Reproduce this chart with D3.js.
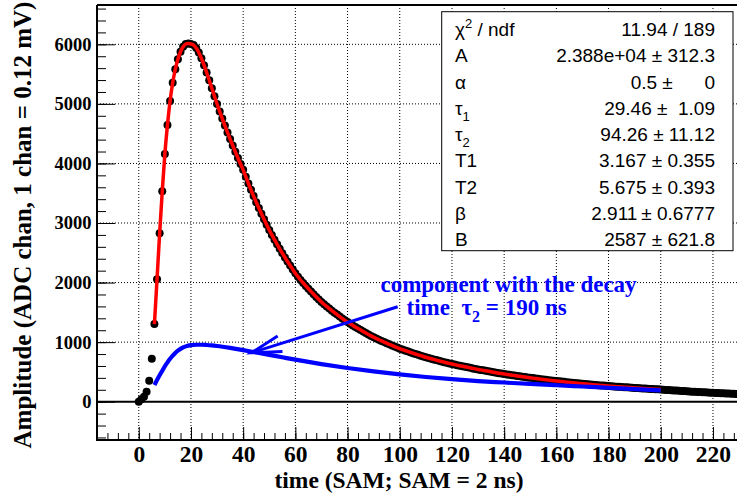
<!DOCTYPE html>
<html><head><meta charset="utf-8">
<script src="https://cdn.jsdelivr.net/npm/d3@7"></script>
<style>
body{margin:0;background:#fff}
svg{display:block}
.serif{font-family:"Liberation Serif","Times New Roman",serif;font-weight:bold}
.sans{font-family:"Liberation Sans",Arial,Helvetica,sans-serif}
</style></head><body>
<svg id="c" width="737" height="493"></svg>
<script>
// ---------------- data ----------------
// amplitude of each sample, sample index = time in SAM (0,1,2,...)
const amplitude = [
0,40,85,165,352,722,1304,2055,2827,3532,
4158,4645,5048,5355,5580,5748,5875,5960,6005,6015,
6005,5987,5940,5863,5764,5650,5527,5396,5263,5128,
4997,4873,4753,4636,4521,4410,4301,4195,4091,3990,
3892,3777,3665,3557,3452,3350,3251,3155,3062,2971,
2883,2800,2720,2642,2567,2494,2423,2353,2286,2221,
2157,2099,2043,1993,1944,1896,1849,1803,1759,1715,
1673,1636,1599,1564,1529,1495,1462,1429,1397,1366,
1336,1308,1281,1254,1228,1202,1177,1153,1129,1105,
1082,1061,1040,1020,1001,982,963,945,926,909,
891,875,860,845,830,815,801,787,773,759,
746,734,722,710,698,687,675,664,654,643,
633,623,614,604,595,586,577,568,559,551,
542,534,526,518,510,502,494,487,479,472,
465,458,452,445,439,432,426,420,414,408,
402,396,390,384,379,373,368,362,357,352,
347,342,338,333,328,324,319,315,310,306,
302,298,294,290,286,282,278,274,270,267,
263,260,256,253,250,247,244,241,238,235,
232,229,226,223,220,218,215,212,210,207,
204,201,198,195,192,189,186,183,180,178,
175,172,169,167,164,162,159,157,154,152,
150,147,145,143,141,139,136,134,132,130,
128,126
];
const fitRange = [6, 200];
// slow component (decay time tau2)
const componentTime = [6,7,8,9,10,11,12,13,14,15,16,17,18,19,20,22,24,26,28,30,35,40,45,50,55,60,70,80,90,100,110,120,130,140,150,160,170,180,190,200];
const componentAmp  = [280,365,445,520,595,660,720,772,818,856,887,911,929,941,949,956,956,952,945,935,903,866,826,786,746,706,632,566,508,458,415,378,346,322,298,276,255,234,212,190];
const xTickValues = [0,20,40,60,80,100,120,140,160,180,200,220];
const yTickValues = [0,1000,2000,3000,4000,5000,6000];
const statLabels = ["χ^{2} / ndf","A","α","τ_{1}","τ_{2}","T1","T2","β","B"];
const statValues = ["11.94 / 189","2.388e+04 ± 312.3","0.5 ±      0","29.46 ±  1.09","94.26 ± 11.12","3.167 ± 0.355","5.675 ± 0.393","2.911\u2009± 0.6777","2587 ± 621.8"];
const xTitle = "time (SAM; SAM = 2 ns)";
const yTitle = "Amplitude (ADC chan, 1 chan = 0.12 mV)";
const arrowFrom = [99.2, 1595];
const arrowTo = [43.2, 822];

// ---------------- layout ----------------
const W = 737, H = 493;
const L = 97, T = 5, B = 440;
const x = d3.scaleLinear().domain([-16, 232]).range([L, L + 248 * 2.61]);
const y = d3.scaleLinear().domain([-643, 6660]).range([B, T]);

const svg = d3.select('#c');
svg.append('rect').attr('width', W).attr('height', H).attr('fill', '#fff');
svg.append('defs').append('clipPath').attr('id', 'clip')
  .append('rect').attr('x', L).attr('y', T).attr('width', W - L + 20).attr('height', B - T);

// grid
const grid = svg.append('g').attr('stroke', '#000').attr('stroke-width', 1).attr('stroke-dasharray', '1,2');
grid.selectAll('line.gx').data(xTickValues).join('line').attr('class', 'gx')
  .attr('x1', d => x(d)).attr('x2', d => x(d)).attr('y1', T).attr('y2', B);
grid.selectAll('line.gy').data(yTickValues.filter(v => v !== 0)).join('line').attr('class', 'gy')
  .attr('y1', d => y(d)).attr('y2', d => y(d)).attr('x1', L).attr('x2', W);

// zero line
svg.append('line').attr('x1', L).attr('x2', W).attr('y1', y(0)).attr('y2', y(0))
  .attr('stroke', '#000').attr('stroke-width', 2);

const plot = svg.append('g').attr('clip-path', 'url(#clip)');
const pts = amplitude.map((v, i) => ({t: i, v}));
plot.selectAll('circle').data(pts).join('circle')
  .attr('cx', d => x(d.t)).attr('cy', d => y(d.v)).attr('r', 4).attr('fill', '#000');

const line = d3.line().x(d => x(d.t)).y(d => y(d.v)).curve(d3.curveMonotoneX);
plot.append('path').datum(pts.filter(d => d.t >= fitRange[0] && d.t <= fitRange[1]))
  .attr('d', line).attr('fill', 'none').attr('stroke', '#ff0000').attr('stroke-width', 3.5);
const comp = componentTime.map((t, i) => ({t, v: componentAmp[i]}));
plot.append('path').datum(comp).attr('d', line).attr('fill', 'none')
  .attr('stroke', '#0000ff').attr('stroke-width', 4.2);

// arrow
const ax1 = x(arrowFrom[0]), ay1 = y(arrowFrom[1]), ax2 = x(arrowTo[0]), ay2 = y(arrowTo[1]);
const ang = Math.atan2(ay1 - ay2, ax1 - ax2), len = 31, spread = 15 * Math.PI / 180;
const arrow = svg.append('g').attr('stroke', '#0000ff').attr('stroke-width', 3).attr('fill', 'none');
arrow.append('line').attr('x1', ax1).attr('y1', ay1).attr('x2', ax2).attr('y2', ay2);
arrow.append('path').attr('d',
  `M${ax2 + len * Math.cos(ang - spread)},${ay2 + len * Math.sin(ang - spread)}L${ax2},${ay2}L${ax2 + len * Math.cos(ang + spread)},${ay2 + len * Math.sin(ang + spread)}`);

// annotation
const ann = svg.append('g').attr('class', 'serif').attr('fill', '#0000ff').style('font-size', '23px');
ann.append('text').attr('x', x(92.6)).attr('y', y(1837)).text('component with the decay');
const t2 = ann.append('text').attr('x', x(102.6)).attr('y', y(1455)).style('white-space', 'pre');
t2.append('tspan').text('time  τ');
t2.append('tspan').attr('dy', 7).style('font-size', '16px').text('2');
t2.append('tspan').attr('dy', -7).text(' = 190 ns');

// axes
const xAxis = svg.append('g').attr('transform', `translate(0,${B})`)
  .call(d3.axisBottom(x).tickValues(xTickValues).tickSize(-13).tickPadding(5).tickFormat(d3.format('d')));
svg.append('g').attr('transform', `translate(0,${B})`)
  .call(d3.axisBottom(x).tickValues(d3.range(-16, 233, 4)).tickSize(-7).tickFormat(''))
  .call(g => g.select('.domain').remove());
const yAxis = svg.append('g').attr('transform', `translate(${L},0)`)
  .call(d3.axisLeft(y).tickValues(yTickValues).tickSize(-18).tickPadding(5.5).tickFormat(d3.format('d')));
svg.append('g').attr('transform', `translate(${L},0)`)
  .call(d3.axisLeft(y).tickValues(d3.range(-600, 6601, 200)).tickSize(-9).tickFormat(''))
  .call(g => g.select('.domain').remove());
svg.selectAll('.tick line').attr('stroke', '#000').attr('stroke-width', 1);
svg.selectAll('.tick text').filter(function(){ return !this.textContent; }).remove();
xAxis.select('.domain').remove(); yAxis.select('.domain').remove();
xAxis.selectAll('text').attr('class', 'serif').style('font-size', '23.5px').attr('fill', '#000').attr('font-family', null).attr('font-size', null);
yAxis.selectAll('text').attr('class', 'serif').style('font-size', '18.5px').attr('fill', '#000').attr('font-family', null).attr('font-size', null);

// frame
svg.append('path').attr('d', `M${L},${T}H${W + 5}M${L},${T}V${B}H${W + 5}`)
  .attr('fill', 'none').attr('stroke', '#000').attr('stroke-width', 2);

// titles
svg.append('text').attr('class', 'serif').attr('x', 399).attr('y', 488).attr('text-anchor', 'middle')
  .style('font-size', '23.5px').text(xTitle);
svg.append('text').attr('class', 'serif').attr('transform', 'translate(31,225) rotate(-90)')
  .attr('text-anchor', 'middle').style('font-size', '25px').text(yTitle);

// stats box
const sb = svg.append('g').attr('class', 'sans').style('font-size', '19px');
sb.append('rect').attr('x', 441.7).attr('y', 11.7).attr('width', 291.3).attr('height', 239)
  .attr('fill', '#fff').attr('stroke', '#000').attr('stroke-width', 1);
statLabels.forEach((lab, i) => {
  const by = 36 + 26.25 * i;
  const tx = sb.append('text').attr('x', 455).attr('y', by);
  const parts = lab.split(/(\^\{[^}]*\}|_\{[^}]*\})/).filter(s => s.length);
  let pending = 0;
  parts.forEach(p => {
    if (p.startsWith('^{')) {
      tx.append('tspan').attr('dy', -8 - pending).style('font-size', '13px').text(p.slice(2, -1));
      pending = -8;
    } else if (p.startsWith('_{')) {
      tx.append('tspan').attr('dy', 6 - pending).style('font-size', '13px').text(p.slice(2, -1));
      pending = 6;
    } else {
      tx.append('tspan').attr('dy', -pending).text(p);
      pending = 0;
    }
  });
  sb.append('text').attr('x', 715).attr('y', by).attr('text-anchor', 'end')
    .style('white-space', 'pre').text(statValues[i]);
});
</script>
</body></html>
